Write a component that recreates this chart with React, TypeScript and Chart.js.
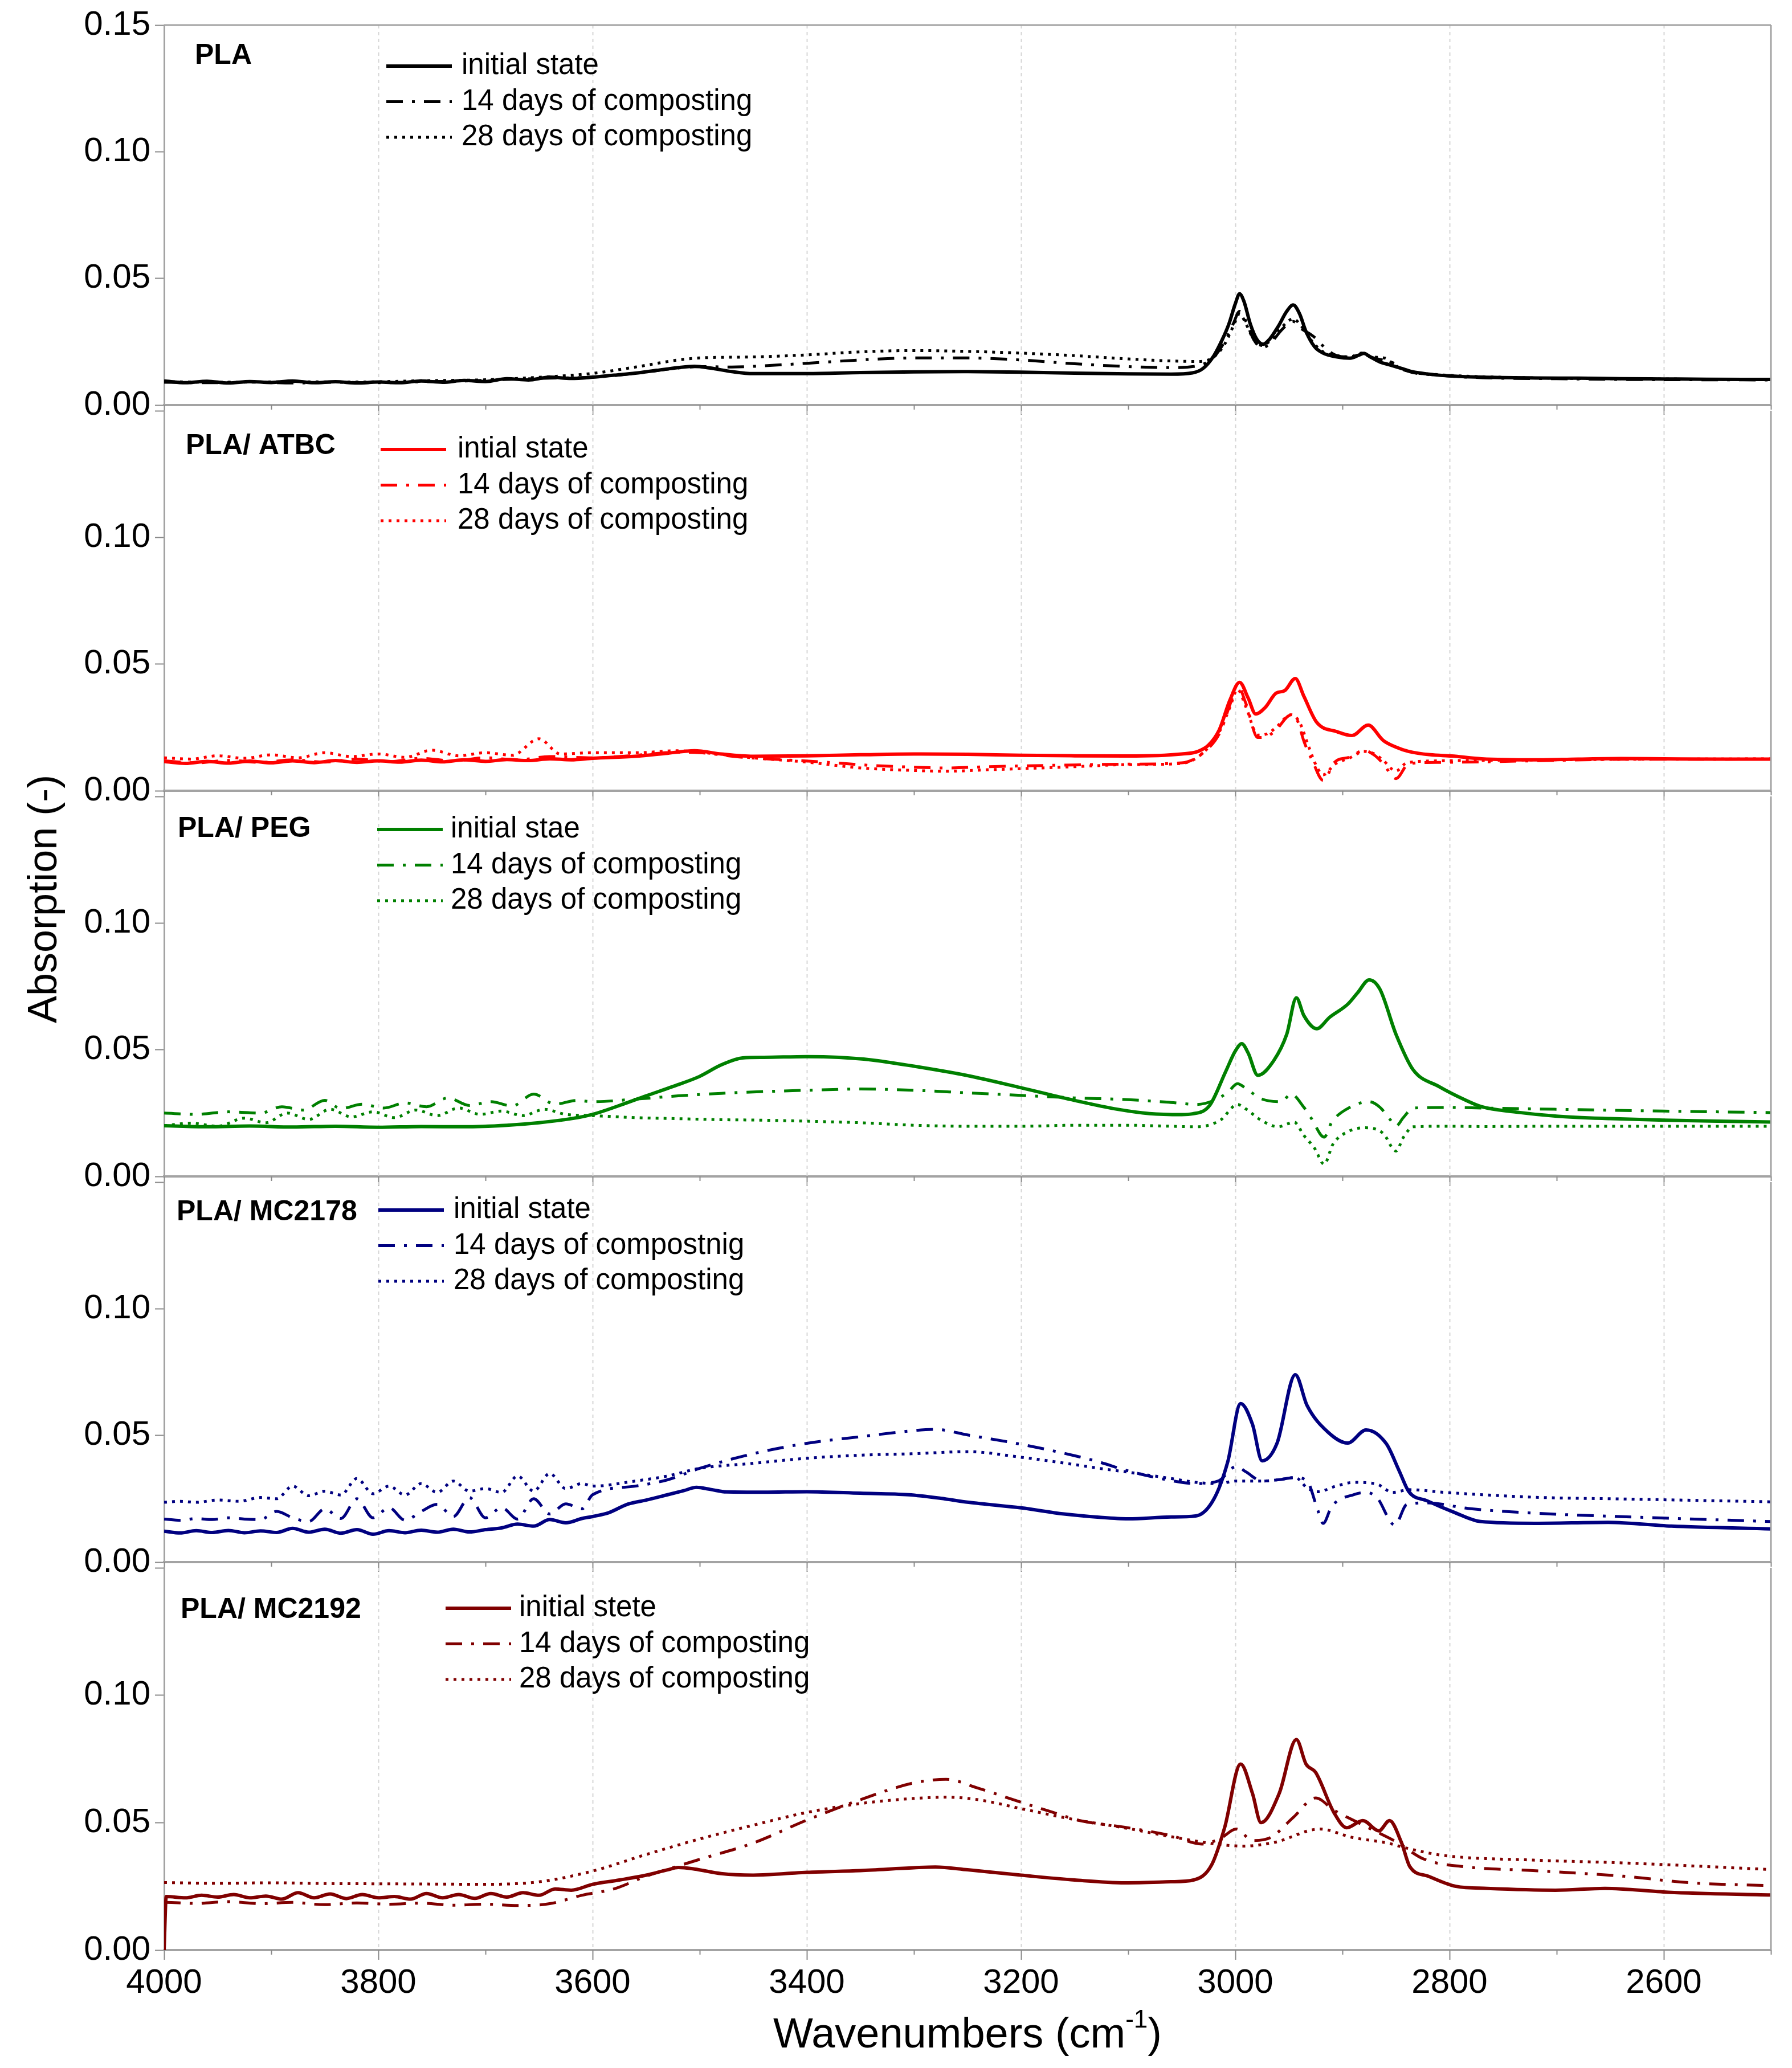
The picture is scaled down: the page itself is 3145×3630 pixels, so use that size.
import { useEffect, useRef } from "react";
import { Chart, registerables } from "chart.js";

Chart.register(...registerables);

const FONT = "'Liberation Sans', Arial, Helvetica, sans-serif";

// panel names and legend entries (typos as in the original figure)
const PANEL_NAMES = ["PLA", "PLA/ ATBC", "PLA/ PEG", "PLA/ MC2178", "PLA/ MC2192"];
const LEGEND_TEXTS = [
  ["initial state", "14 days of composting", "28 days of composting"],
  ["intial state", "14 days of composting", "28 days of composting"],
  ["initial stae", "14 days of composting", "28 days of composting"],
  ["initial state", "14 days of compostnig", "28 days of composting"],
  ["initial stete", "14 days of composting", "28 days of composting"],
];
const SERIES_COLORS = ["#000000", "#ff0000", "#008000", "#000080", "#800000"];

const X_MIN = 2500;
const X_MAX = 4000;
const X_MINOR = 100;
const X_MAJOR = 200;
const Y_MAX = 0.15;
const Y_STEP = 0.05;

// spectra as [wavenumber (cm-1), absorption]
const PLA_INITIAL = [
  [4000, 0.0095], [3980, 0.0088], [3960, 0.0094], [3940, 0.0087], [3920, 0.0093], [3900, 0.0089],
  [3880, 0.0095], [3860, 0.0088], [3840, 0.0092], [3820, 0.0087], [3800, 0.0091], [3780, 0.0088],
  [3760, 0.0095], [3740, 0.009], [3720, 0.0097], [3700, 0.0093], [3680, 0.0104], [3660, 0.0099],
  [3640, 0.011], [3620, 0.0105], [3600, 0.011], [3580, 0.0118], [3560, 0.0126], [3540, 0.0137],
  [3520, 0.0148], [3505, 0.0153], [3490, 0.0146], [3470, 0.0132], [3450, 0.0124], [3400, 0.0124],
  [3350, 0.0128], [3300, 0.0131], [3250, 0.0132], [3200, 0.013], [3150, 0.0126], [3100, 0.0123],
  [3060, 0.0122], [3040, 0.0127], [3030, 0.0145], [3020, 0.0195], [3012, 0.026], [3006, 0.032],
  [3000, 0.04], [2996, 0.0439], [2992, 0.041], [2986, 0.032], [2980, 0.026], [2974, 0.024],
  [2968, 0.026], [2960, 0.031], [2952, 0.037], [2946, 0.0395], [2940, 0.036], [2934, 0.029],
  [2926, 0.023], [2918, 0.0205], [2905, 0.019], [2893, 0.0185], [2884, 0.0198], [2880, 0.0204],
  [2874, 0.019], [2865, 0.017], [2857, 0.016], [2845, 0.0145], [2836, 0.0133], [2815, 0.012],
  [2790, 0.0113], [2770, 0.011], [2720, 0.0107], [2680, 0.0106], [2640, 0.0104], [2600, 0.0103],
  [2560, 0.0102], [2500, 0.0101],
];
const PLA_14D = [
  [4000, 0.009], [3960, 0.0088], [3920, 0.0091], [3880, 0.0087], [3840, 0.009], [3800, 0.0088],
  [3760, 0.0092], [3720, 0.0095], [3680, 0.0101], [3640, 0.0106], [3600, 0.011], [3560, 0.0125],
  [3520, 0.0146], [3500, 0.0152], [3470, 0.015], [3440, 0.0155], [3400, 0.0165], [3350, 0.0178],
  [3300, 0.0186], [3250, 0.0186], [3200, 0.0178], [3150, 0.0163], [3100, 0.0152], [3060, 0.0148],
  [3035, 0.0155], [3020, 0.019], [3010, 0.025], [3002, 0.032], [2996, 0.037], [2990, 0.033],
  [2983, 0.026], [2975, 0.0226], [2966, 0.025], [2956, 0.03], [2946, 0.033], [2938, 0.03],
  [2930, 0.028], [2924, 0.026], [2915, 0.022], [2905, 0.0195], [2893, 0.019], [2882, 0.02],
  [2870, 0.0185], [2860, 0.0175], [2852, 0.0165], [2840, 0.0135], [2810, 0.0118], [2770, 0.0108],
  [2700, 0.0104], [2640, 0.0101], [2580, 0.01], [2500, 0.0099],
];
const PLA_28D = [
  [4000, 0.0092], [3940, 0.009], [3880, 0.0092], [3820, 0.0091], [3760, 0.0096], [3700, 0.01],
  [3640, 0.0112], [3600, 0.0125], [3560, 0.015], [3520, 0.0178], [3500, 0.0186], [3450, 0.019],
  [3400, 0.0198], [3350, 0.021], [3300, 0.0215], [3250, 0.0212], [3200, 0.0205], [3150, 0.0195],
  [3100, 0.0182], [3060, 0.0174], [3035, 0.0172], [3020, 0.019], [3010, 0.024], [3002, 0.031],
  [2996, 0.036], [2990, 0.032], [2983, 0.026], [2975, 0.0235], [2966, 0.026], [2956, 0.031],
  [2946, 0.034], [2938, 0.031], [2928, 0.025], [2918, 0.021], [2905, 0.0195], [2893, 0.019],
  [2882, 0.0205], [2872, 0.019], [2860, 0.0185], [2852, 0.016], [2840, 0.0135], [2810, 0.012],
  [2770, 0.0112], [2700, 0.0106], [2600, 0.0103], [2500, 0.0101],
];

const ATBC_INITIAL = [
  [4000, 0.0115], [3980, 0.0108], [3960, 0.0116], [3940, 0.0109], [3920, 0.0117], [3900, 0.011],
  [3880, 0.0118], [3860, 0.0111], [3840, 0.0119], [3820, 0.0112], [3800, 0.0118], [3780, 0.0113],
  [3760, 0.0121], [3740, 0.0114], [3720, 0.0122], [3700, 0.0116], [3680, 0.0123], [3660, 0.0119],
  [3640, 0.0126], [3620, 0.0122], [3600, 0.0128], [3560, 0.0136], [3530, 0.0148], [3505, 0.0158],
  [3480, 0.0145], [3450, 0.0136], [3400, 0.0138], [3350, 0.0142], [3300, 0.0145], [3250, 0.0144],
  [3200, 0.014], [3150, 0.0138], [3100, 0.0137], [3050, 0.0145], [3035, 0.0155], [3025, 0.018],
  [3015, 0.024], [3005, 0.0358], [2996, 0.0428], [2988, 0.0366], [2981, 0.0303], [2972, 0.0329],
  [2962, 0.0385], [2954, 0.0395], [2944, 0.0443], [2936, 0.0373], [2924, 0.027], [2905, 0.0233],
  [2891, 0.0218], [2876, 0.0259], [2862, 0.0199], [2850, 0.0172], [2838, 0.0155], [2818, 0.0142],
  [2798, 0.0137], [2770, 0.0126], [2720, 0.0122], [2680, 0.0125], [2640, 0.0127], [2600, 0.0126],
  [2550, 0.0125], [2500, 0.0125],
];
const ATBC_14D = [
  [4000, 0.0118], [3970, 0.011], [3940, 0.012], [3910, 0.0112], [3880, 0.0122], [3850, 0.0113],
  [3820, 0.0125], [3790, 0.0115], [3760, 0.0128], [3730, 0.0118], [3700, 0.013], [3670, 0.0122],
  [3640, 0.0135], [3600, 0.013], [3560, 0.014], [3520, 0.0152], [3500, 0.015], [3460, 0.0132],
  [3420, 0.0122], [3380, 0.0112], [3340, 0.01], [3300, 0.0093], [3270, 0.009], [3230, 0.0095],
  [3200, 0.0098], [3150, 0.0102], [3100, 0.0105], [3050, 0.011], [3030, 0.015], [3014, 0.0233],
  [3005, 0.034], [2998, 0.0417], [2990, 0.0343], [2979, 0.021], [2970, 0.0215], [2962, 0.024],
  [2948, 0.0299], [2942, 0.0277], [2936, 0.0196], [2928, 0.0118], [2918, 0.0041], [2907, 0.0114],
  [2893, 0.0133], [2880, 0.0159], [2870, 0.014], [2862, 0.0107], [2850, 0.0048], [2838, 0.0107],
  [2810, 0.0112], [2770, 0.0114], [2700, 0.012], [2640, 0.0124], [2580, 0.0124], [2500, 0.0125],
];
const ATBC_28D = [
  [4000, 0.013], [3975, 0.0125], [3950, 0.0138], [3925, 0.0128], [3900, 0.0142], [3875, 0.013],
  [3850, 0.015], [3825, 0.0135], [3800, 0.0145], [3775, 0.0132], [3750, 0.016], [3725, 0.0138],
  [3700, 0.015], [3675, 0.014], [3650, 0.0205], [3630, 0.0145], [3600, 0.015], [3560, 0.015],
  [3520, 0.0158], [3500, 0.0152], [3450, 0.013], [3400, 0.0113], [3350, 0.009], [3300, 0.008],
  [3270, 0.0077], [3230, 0.0083], [3200, 0.0087], [3150, 0.0095], [3100, 0.0103], [3050, 0.0108],
  [3030, 0.015], [3014, 0.024], [3005, 0.033], [2998, 0.04], [2990, 0.033], [2979, 0.022],
  [2970, 0.0225], [2962, 0.025], [2948, 0.03], [2940, 0.027], [2932, 0.018], [2924, 0.0095],
  [2918, 0.0063], [2907, 0.0105], [2893, 0.013], [2880, 0.0155], [2870, 0.0145], [2862, 0.012],
  [2850, 0.0078], [2840, 0.011], [2810, 0.0118], [2770, 0.012], [2700, 0.0122], [2640, 0.0124],
  [2580, 0.0125], [2500, 0.0126],
];

const PEG_INITIAL = [
  [4000, 0.02], [3960, 0.0196], [3920, 0.0199], [3880, 0.0195], [3840, 0.0198], [3800, 0.0194],
  [3760, 0.0197], [3720, 0.0196], [3680, 0.0202], [3650, 0.0212], [3620, 0.0228], [3600, 0.0245],
  [3575, 0.028], [3550, 0.0318], [3525, 0.0355], [3500, 0.0395], [3480, 0.044], [3460, 0.0468],
  [3440, 0.047], [3400, 0.0473], [3370, 0.047], [3340, 0.046], [3300, 0.0435], [3250, 0.0398],
  [3200, 0.035], [3150, 0.03], [3110, 0.0265], [3080, 0.0248], [3050, 0.0244], [3040, 0.0247],
  [3024, 0.028], [3009, 0.0414], [3000, 0.0495], [2994, 0.0524], [2988, 0.0487], [2979, 0.0399],
  [2964, 0.0458], [2952, 0.0561], [2943, 0.0705], [2936, 0.0635], [2924, 0.0583], [2912, 0.0628],
  [2895, 0.068], [2886, 0.0724], [2875, 0.0776], [2865, 0.0739], [2850, 0.0561], [2834, 0.0421],
  [2810, 0.0355], [2786, 0.0303], [2770, 0.0275], [2740, 0.0255], [2700, 0.0238], [2650, 0.0228],
  [2600, 0.0222], [2550, 0.0218], [2500, 0.0215],
];
const PEG_14D = [
  [4000, 0.025], [3970, 0.0245], [3940, 0.0255], [3910, 0.025], [3890, 0.0275], [3870, 0.0262],
  [3850, 0.03], [3835, 0.0268], [3815, 0.0285], [3795, 0.027], [3775, 0.029], [3755, 0.0275],
  [3735, 0.031], [3715, 0.028], [3695, 0.0295], [3675, 0.0278], [3655, 0.0325], [3635, 0.0285],
  [3615, 0.03], [3600, 0.0295], [3560, 0.0305], [3520, 0.0318], [3480, 0.0328], [3440, 0.0335],
  [3400, 0.034], [3350, 0.0345], [3300, 0.034], [3250, 0.033], [3200, 0.032], [3150, 0.031],
  [3100, 0.0303], [3060, 0.0292], [3036, 0.0284], [3020, 0.03], [3007, 0.0332], [2998, 0.0366],
  [2990, 0.0347], [2976, 0.0307], [2957, 0.0295], [2948, 0.0325], [2936, 0.0273], [2929, 0.0229],
  [2917, 0.0155], [2910, 0.0214], [2893, 0.0273], [2875, 0.0295], [2865, 0.0273], [2855, 0.0222],
  [2850, 0.0199], [2843, 0.0233], [2834, 0.027], [2800, 0.0272], [2770, 0.027], [2700, 0.0265],
  [2600, 0.0258], [2500, 0.0252],
];
const PEG_28D = [
  [4000, 0.02], [3975, 0.021], [3950, 0.0198], [3925, 0.023], [3905, 0.0212], [3885, 0.025],
  [3865, 0.0225], [3845, 0.0265], [3825, 0.0235], [3805, 0.0255], [3785, 0.0232], [3765, 0.0262],
  [3745, 0.024], [3725, 0.027], [3705, 0.0245], [3685, 0.0258], [3665, 0.024], [3645, 0.0265],
  [3625, 0.0245], [3600, 0.024], [3560, 0.0232], [3520, 0.0228], [3480, 0.0224], [3440, 0.0222],
  [3400, 0.0218], [3350, 0.0212], [3300, 0.0202], [3250, 0.0198], [3200, 0.0198], [3150, 0.0202],
  [3100, 0.0202], [3060, 0.0198], [3036, 0.0196], [3014, 0.0222], [2998, 0.0284], [2990, 0.0266],
  [2976, 0.0222], [2960, 0.0196], [2945, 0.0214], [2936, 0.0162], [2926, 0.0111], [2917, 0.0048],
  [2909, 0.0126], [2898, 0.017], [2879, 0.0192], [2862, 0.017], [2850, 0.01], [2843, 0.0155],
  [2834, 0.0196], [2800, 0.0198], [2770, 0.0197], [2700, 0.0198], [2600, 0.0198], [2500, 0.0198],
];

const MC2178_INITIAL = [
  [4000, 0.0122], [3985, 0.0115], [3970, 0.0124], [3955, 0.0117], [3940, 0.0125], [3925, 0.0116],
  [3910, 0.0123], [3895, 0.0117], [3880, 0.0133], [3865, 0.0118], [3850, 0.013], [3835, 0.0114],
  [3820, 0.0128], [3805, 0.011], [3790, 0.0124], [3775, 0.0116], [3760, 0.0126], [3745, 0.0118],
  [3730, 0.013], [3715, 0.0119], [3700, 0.0128], [3685, 0.0135], [3670, 0.015], [3655, 0.0142],
  [3640, 0.0168], [3625, 0.0155], [3610, 0.0172], [3600, 0.018], [3585, 0.0195], [3567, 0.0229],
  [3550, 0.0245], [3530, 0.0266], [3515, 0.0282], [3503, 0.0295], [3490, 0.0287], [3475, 0.0277],
  [3440, 0.0276], [3400, 0.0278], [3350, 0.0272], [3305, 0.0266], [3275, 0.0252], [3249, 0.0236],
  [3200, 0.0214], [3160, 0.019], [3127, 0.0177], [3100, 0.0171], [3060, 0.0178], [3037, 0.0182],
  [3020, 0.0249], [3007, 0.0397], [2995, 0.0626], [2984, 0.0544], [2975, 0.04], [2961, 0.047],
  [2944, 0.074], [2933, 0.0618], [2914, 0.0515], [2895, 0.047], [2878, 0.0522], [2859, 0.0467],
  [2847, 0.036], [2838, 0.0278], [2821, 0.0242], [2796, 0.0197], [2771, 0.016], [2720, 0.0153],
  [2652, 0.0157], [2593, 0.0142], [2500, 0.0131],
];
const MC2178_14D = [
  [4000, 0.017], [3985, 0.0165], [3970, 0.0172], [3955, 0.0168], [3940, 0.0175], [3925, 0.017],
  [3910, 0.0168], [3895, 0.02], [3880, 0.0175], [3865, 0.016], [3850, 0.021], [3835, 0.0172],
  [3820, 0.025], [3805, 0.0175], [3790, 0.0215], [3775, 0.0165], [3760, 0.02], [3745, 0.0228],
  [3730, 0.018], [3715, 0.0255], [3700, 0.0175], [3685, 0.0215], [3670, 0.017], [3655, 0.025],
  [3640, 0.019], [3625, 0.023], [3610, 0.021], [3600, 0.0266], [3560, 0.03], [3530, 0.0325],
  [3500, 0.037], [3450, 0.0428], [3400, 0.0469], [3350, 0.0495], [3305, 0.0517], [3280, 0.0524],
  [3250, 0.0502], [3200, 0.0465], [3150, 0.042], [3127, 0.0395], [3100, 0.036], [3060, 0.0322],
  [3037, 0.031], [3016, 0.032], [2999, 0.0378], [2990, 0.0356], [2975, 0.032], [2960, 0.0325],
  [2944, 0.0334], [2933, 0.032], [2923, 0.0205], [2918, 0.0153], [2910, 0.022], [2889, 0.0267],
  [2878, 0.0275], [2868, 0.0256], [2851, 0.0146], [2840, 0.0227], [2821, 0.0234], [2783, 0.0212],
  [2720, 0.0193], [2635, 0.0179], [2500, 0.016],
];
const MC2178_28D = [
  [4000, 0.0236], [3985, 0.024], [3970, 0.0236], [3950, 0.0245], [3930, 0.024], [3910, 0.0255],
  [3895, 0.025], [3880, 0.03], [3865, 0.0262], [3850, 0.028], [3835, 0.0265], [3820, 0.033],
  [3805, 0.027], [3790, 0.03], [3775, 0.0265], [3760, 0.031], [3745, 0.0275], [3730, 0.032],
  [3715, 0.028], [3700, 0.029], [3685, 0.0275], [3670, 0.034], [3655, 0.028], [3640, 0.035],
  [3625, 0.029], [3610, 0.031], [3600, 0.03], [3560, 0.032], [3530, 0.034], [3500, 0.037],
  [3450, 0.039], [3400, 0.041], [3350, 0.0422], [3300, 0.0428], [3250, 0.0436], [3200, 0.0414],
  [3150, 0.0385], [3127, 0.037], [3100, 0.0355], [3060, 0.033], [3037, 0.0315], [3016, 0.031],
  [2999, 0.032], [2990, 0.032], [2975, 0.032], [2960, 0.0325], [2944, 0.0334], [2933, 0.0293],
  [2923, 0.0278], [2906, 0.03], [2889, 0.0315], [2868, 0.0308], [2853, 0.0275], [2838, 0.0286],
  [2804, 0.0275], [2720, 0.0256], [2635, 0.0249], [2500, 0.0238],
];

const MC2192_INITIAL = [
  [4000, 0.0], [3998, 0.021], [3980, 0.0205], [3965, 0.0215], [3950, 0.0208], [3935, 0.0218],
  [3920, 0.0205], [3905, 0.0212], [3890, 0.02], [3875, 0.0225], [3860, 0.0205], [3845, 0.022],
  [3830, 0.0202], [3815, 0.0218], [3800, 0.0205], [3785, 0.021], [3770, 0.02], [3755, 0.0222],
  [3740, 0.0205], [3725, 0.0218], [3710, 0.0203], [3695, 0.0222], [3680, 0.0208], [3665, 0.0225],
  [3650, 0.0215], [3635, 0.024], [3620, 0.0235], [3600, 0.0258], [3575, 0.0275], [3550, 0.0294],
  [3530, 0.0315], [3520, 0.0324], [3505, 0.0318], [3480, 0.03], [3450, 0.0294], [3420, 0.03],
  [3400, 0.0305], [3350, 0.0312], [3300, 0.0323], [3280, 0.0326], [3250, 0.0315], [3200, 0.0294],
  [3150, 0.0275], [3103, 0.0264], [3060, 0.0268], [3039, 0.0275], [3022, 0.0335], [3010, 0.048],
  [2995, 0.073], [2984, 0.0615], [2976, 0.05], [2959, 0.0615], [2943, 0.0826], [2934, 0.073],
  [2925, 0.0697], [2908, 0.054], [2896, 0.048], [2881, 0.0508], [2866, 0.0468], [2856, 0.0508],
  [2845, 0.0423], [2837, 0.0327], [2820, 0.029], [2794, 0.025], [2765, 0.0242], [2701, 0.0235],
  [2655, 0.0242], [2596, 0.0227], [2500, 0.0216],
];
const MC2192_14D = [
  [4000, 0.0188], [3970, 0.0183], [3940, 0.019], [3910, 0.0182], [3880, 0.0187], [3850, 0.0178],
  [3820, 0.0185], [3790, 0.018], [3760, 0.0184], [3730, 0.0176], [3700, 0.018], [3670, 0.0175],
  [3640, 0.0182], [3610, 0.0215], [3580, 0.024], [3550, 0.029], [3520, 0.033], [3500, 0.0356],
  [3450, 0.042], [3400, 0.051], [3350, 0.059], [3300, 0.0656], [3270, 0.067], [3240, 0.0635],
  [3200, 0.058], [3170, 0.054], [3145, 0.0508], [3103, 0.0482], [3060, 0.0449], [3031, 0.0416],
  [3014, 0.0438], [2999, 0.0475], [2984, 0.043], [2967, 0.0442], [2946, 0.052], [2925, 0.0597],
  [2908, 0.0549], [2891, 0.0512], [2870, 0.0468], [2849, 0.0423], [2824, 0.0357], [2786, 0.0327],
  [2722, 0.0312], [2638, 0.029], [2575, 0.0264], [2500, 0.0253],
];
const MC2192_28D = [
  [4000, 0.0265], [3950, 0.0262], [3900, 0.0264], [3850, 0.0261], [3800, 0.026], [3750, 0.0259],
  [3700, 0.0258], [3650, 0.0268], [3600, 0.031], [3550, 0.0375], [3500, 0.0436], [3450, 0.049],
  [3400, 0.054], [3350, 0.0575], [3300, 0.0595], [3270, 0.06], [3240, 0.059], [3200, 0.0555],
  [3150, 0.0512], [3100, 0.0477], [3060, 0.0445], [3018, 0.0416], [2993, 0.0408], [2963, 0.0423],
  [2921, 0.0475], [2891, 0.0442], [2858, 0.042], [2841, 0.0401], [2807, 0.0372], [2722, 0.0353],
  [2638, 0.0342], [2500, 0.0316],
];

const PANEL_SERIES = [
  [PLA_INITIAL, PLA_14D, PLA_28D],
  [ATBC_INITIAL, ATBC_14D, ATBC_28D],
  [PEG_INITIAL, PEG_14D, PEG_28D],
  [MC2178_INITIAL, MC2178_14D, MC2178_28D],
  [MC2192_INITIAL, MC2192_14D, MC2192_28D],
];

// line styles: initial solid, 14 days dash-dot, 28 days dotted
const LINE_WIDTHS = [6, 5, 5];
const DASHES = [[], [29, 16, 5, 16], [5, 9]];

// page geometry
const PAGE_W = 3145;
const PAGE_H = 3630;
const TOP = 38;
const PANEL_H = 677;
const PLOT_LEFT = 288;
const PLOT_RIGHT = 3108;
const FRAME = "#a3a3a3";
const TICK = "#8a8a8a";

const TITLE_POS = [[342, 98], [326, 783], [312, 1455], [310, 2128], [317, 2826]];
const LEGEND_POS = [[678, 810, 116], [668, 803, 789], [662, 791, 1456], [664, 796, 2124], [782, 911, 2823]];

function xValues(step: number) {
  const out: number[] = [];
  for (let v = X_MIN; v <= X_MAX; v += step) out.push(v);
  return out;
}

// dashed vertical grid at the labelled wavenumbers
function drawGrid(chart: any) {
  const ctx = chart.ctx;
  const xs = chart.scales.x;
  const { top, bottom } = chart.chartArea;
  ctx.save();
  ctx.strokeStyle = "#d6d6d6";
  ctx.lineWidth = 2;
  ctx.setLineDash([6, 6]);
  xValues(X_MINOR).forEach((v) => {
    if (v === X_MIN || v === X_MAX || v % X_MAJOR !== 0) return;
    const px = Math.round(xs.getPixelForValue(v)) + 0.5;
    ctx.beginPath();
    ctx.moveTo(px, top);
    ctx.lineTo(px, bottom);
    ctx.stroke();
  });
  ctx.restore();
}

function drawDecor(chart: any, index: number, canvasTop: number) {
  const ctx = chart.ctx;
  const xs = chart.scales.x;
  const { left, right, top, bottom } = chart.chartArea;
  ctx.save();

  // outward tick marks under each panel, long at labelled positions
  ctx.strokeStyle = TICK;
  ctx.lineWidth = 2;
  xValues(X_MINOR).forEach((v) => {
    const px = Math.round(xs.getPixelForValue(v)) + 0.5;
    const len = v % X_MAJOR === 0 ? 17 : 8;
    ctx.beginPath();
    ctx.moveTo(px, bottom);
    ctx.lineTo(px, bottom + len);
    ctx.stroke();
  });

  ctx.strokeStyle = FRAME;
  ctx.lineWidth = 3;
  ctx.beginPath();
  ctx.moveTo(right, top);
  ctx.lineTo(right, bottom);
  if (index === 0) {
    ctx.moveTo(left, top);
    ctx.lineTo(right, top);
  }
  ctx.stroke();

  ctx.fillStyle = "#000";
  ctx.textBaseline = "middle";
  ctx.textAlign = "left";
  const [tx, ty] = TITLE_POS[index];
  ctx.font = `bold 50px ${FONT}`;
  ctx.fillText(PANEL_NAMES[index], tx, ty - canvasTop);

  const [lx, textX, ly] = LEGEND_POS[index];
  LEGEND_TEXTS[index].forEach((label, s) => {
    const y = ly + s * 62.5 - canvasTop;
    ctx.strokeStyle = SERIES_COLORS[index];
    ctx.lineWidth = LINE_WIDTHS[s];
    ctx.setLineDash(DASHES[s]);
    ctx.beginPath();
    ctx.moveTo(lx, y);
    ctx.lineTo(lx + 115, y);
    ctx.stroke();
    ctx.setLineDash([]);
    ctx.font = `51px ${FONT}`;
    ctx.fillText(label, textX, y);
  });

  if (index === PANEL_NAMES.length - 1) {
    // x axis title with superscript
    const y = 3574 - canvasTop;
    const main = "Wavenumbers (cm";
    const sup = "-1";
    const end = ")";
    ctx.font = `74px ${FONT}`;
    const wMain = ctx.measureText(main).width;
    const wEnd = ctx.measureText(end).width;
    ctx.font = `44px ${FONT}`;
    const wSup = ctx.measureText(sup).width;
    let x = (PLOT_LEFT + PLOT_RIGHT) / 2 - (wMain + wSup + wEnd) / 2;
    ctx.font = `74px ${FONT}`;
    ctx.fillText(main, x, y);
    x += wMain;
    ctx.font = `44px ${FONT}`;
    ctx.fillText(sup, x, y - 27);
    x += wSup;
    ctx.font = `74px ${FONT}`;
    ctx.fillText(end, x, y);
  }
  ctx.restore();
}

function SpectrumPanel({ index }: { index: number }) {
  const canvasRef = useRef<HTMLCanvasElement | null>(null);
  const isBottom = index === PANEL_NAMES.length - 1;
  const canvasTop = index * PANEL_H;
  const padBottom = isBottom ? PAGE_H - (TOP + PANEL_NAMES.length * PANEL_H) : 40;
  const height = TOP + PANEL_H + padBottom;

  useEffect(() => {
    if (!canvasRef.current) return;

    const chart = new Chart(canvasRef.current, {
      type: "line",
      data: {
        datasets: PANEL_SERIES[index].map((pts, s) => ({
          label: LEGEND_TEXTS[index][s],
          data: pts.map(([x, y]) => ({ x, y })),
          borderColor: SERIES_COLORS[index],
          borderWidth: LINE_WIDTHS[s],
          borderDash: DASHES[s],
          pointRadius: 0,
          cubicInterpolationMode: "monotone",
          fill: false,
        })),
      },
      options: {
        responsive: false,
        animation: false,
        devicePixelRatio: 1,
        layout: { padding: { top: TOP, left: 0, right: PAGE_W - PLOT_RIGHT, bottom: 0 } },
        plugins: {
          legend: { display: false },
          tooltip: { enabled: false },
        },
        scales: {
          x: {
            type: "linear",
            reverse: true,
            min: X_MIN,
            max: X_MAX,
            ticks: {
              stepSize: X_MINOR,
              maxTicksLimit: 40,
              autoSkip: false,
              maxRotation: 0,
              display: isBottom,
              padding: 22,
              color: "#000",
              font: { family: FONT, size: 60 },
              callback: (v: any) => (Math.round(v) % X_MAJOR === 0 ? String(v) : ""),
            },
            grid: { display: false, drawTicks: false },
            border: { display: true, color: FRAME, width: 4 },
            afterFit: (s: any) => {
              s.height = padBottom;
            },
          },
          y: {
            min: 0,
            max: Y_MAX,
            ticks: {
              stepSize: Y_STEP,
              padding: 8,
              color: "#000",
              font: { family: FONT, size: 60 },
              callback: (v: any) => (index > 0 && v > Y_MAX - 0.01 ? "" : Number(v).toFixed(2)),
            },
            grid: {
              drawOnChartArea: false,
              tickColor: TICK,
              tickWidth: 2,
              tickLength: 16,
            },
            border: { display: true, color: FRAME, width: 3 },
            afterFit: (s: any) => {
              s.width = PLOT_LEFT;
            },
          },
        },
      },
      plugins: [
        {
          id: "panelDecor",
          beforeDatasetsDraw: (c: any) => drawGrid(c),
          afterDraw: (c: any) => drawDecor(c, index, canvasTop),
        },
      ],
    } as any);

    return () => chart.destroy();
  }, [index]);

  return (
    <canvas
      ref={canvasRef}
      width={PAGE_W}
      height={height}
      style={{ position: "absolute", left: 0, top: canvasTop, width: PAGE_W, height }}
    />
  );
}

export default function App() {
  return (
    <div
      style={{
        position: "absolute",
        left: 0,
        top: 0,
        width: PAGE_W,
        height: PAGE_H,
        background: "#fff",
        overflow: "hidden",
      }}
    >
      {PANEL_NAMES.map((_, i) => (
        <SpectrumPanel key={i} index={i} />
      ))}
      <div
        style={{
          position: "absolute",
          left: 74,
          top: 1578,
          transform: "translate(-50%, -50%) rotate(-90deg)",
          font: `72px ${FONT}`,
          whiteSpace: "nowrap",
          color: "#000",
        }}
      >
        Absorption (-)
      </div>
    </div>
  );
}
